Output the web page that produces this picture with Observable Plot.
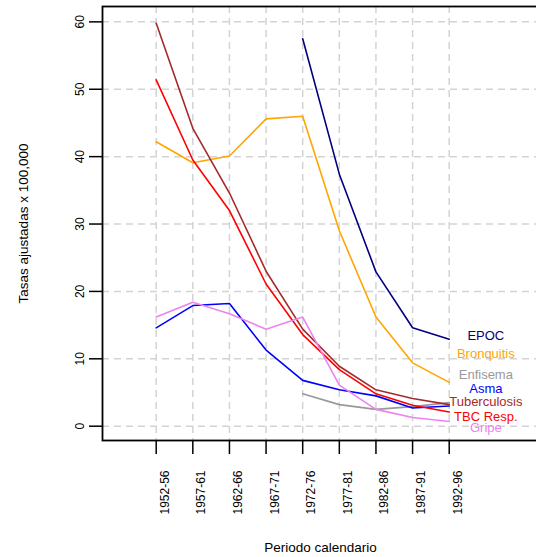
<!DOCTYPE html>
<html>
<head>
<meta charset="utf-8">
<script src="https://cdn.jsdelivr.net/npm/d3@7"></script>
<script src="https://cdn.jsdelivr.net/npm/@observablehq/plot@0.6"></script>
<style>
  html, body { margin: 0; padding: 0; background: white; }
  #chart { width: 536px; height: 557px; overflow: hidden; }
</style>
</head>
<body>
<div id="chart"></div>
<script>
// ---- data ----
const periods = ["1952-56","1957-61","1962-66","1967-71","1972-76","1977-81","1982-86","1987-91","1992-96"];
const epoc         = [null, null, null, null, 57.5, 37.4, 22.9, 14.6, 12.9];
const bronquitis   = [42.2, 39.1, 40.1, 45.6, 46.0, 29.0, 16.2, 9.4, 6.5];
const enfisema     = [null, null, null, null, 4.8, 3.2, 2.5, 2.9, 3.5];
const asma         = [14.6, 17.9, 18.2, 11.3, 6.8, 5.4, 4.5, 2.7, 3.0];
const tuberculosis = [59.8, 44.2, 34.6, 23.0, 14.4, 8.9, 5.4, 4.1, 3.2];
const tbcResp      = [51.4, 39.5, 32.0, 21.1, 13.6, 8.4, 4.8, 3.1, 2.1];
const gripe        = [16.2, 18.4, 16.7, 14.4, 16.2, 6.1, 2.5, 1.3, 0.7];

const seriesNames  = ["EPOC", "Bronquitis", "Enfisema", "Asma", "Tuberculosis", "TBC Resp.", "Gripe"];
const seriesColors = ["#000080", "#FFA500", "#999999", "#0000FF", "#A52A2A", "#FF0000", "#EE82EE"];
const labelY       = [13.45, 10.8, 7.6, 5.6, 3.6, 1.35, -0.3];
const labelX       = 10;
const yTicks       = [0, 10, 20, 30, 40, 50, 60];
const xTitle = "Periodo calendario";
const yTitle = "Tasas ajustadas x 100,000";

// ---- build table ----
const seriesValues = [epoc, bronquitis, enfisema, asma, tuberculosis, tbcResp, gripe];
const rows = [];
seriesValues.forEach((vals, s) => {
  vals.forEach((v, i) => rows.push({serie: seriesNames[s], idx: i + 1, value: v}));
});
const labels = seriesNames.map((n, s) => ({serie: n, x: labelX, y: labelY[s], color: seriesColors[s]}));
const indices = periods.map((p, i) => i + 1);

const font = "'Liberation Sans', Arial, Helvetica, sans-serif";
const gridStyle = {stroke: "#d3d3d3", strokeWidth: 1.5, strokeDasharray: "7,5", strokeOpacity: 1};

const chart = Plot.plot({
  width: 536,
  height: 557,
  marginLeft: 102,
  marginRight: -2,
  marginTop: 6,
  marginBottom: 117,
  style: {fontFamily: font, background: "white", overflow: "visible"},
  x: {type: "linear", domain: [-0.466, 11.438], axis: null},
  y: {type: "linear", domain: [-2.122, 62.28], axis: null},
  color: {domain: seriesNames, range: seriesColors},
  marks: [
    Plot.ruleY(yTicks, {y: d => d, ...gridStyle}),
    Plot.ruleX(indices, {x: d => d, ...gridStyle}),
    Plot.line(rows, {x: "idx", y: "value", z: "serie", stroke: "serie", strokeWidth: 1.6, defined: d => d.value != null}),
    Plot.text(labels, {x: "x", y: "y", text: "serie", fill: "color", fontSize: 13, textAnchor: "middle", lineAnchor: "middle"}),
    Plot.frame({stroke: "black", strokeWidth: 1.8}),
    Plot.axisX(indices, {tickSize: 14, stroke: "black", strokeWidth: 1.5, fill: "none", tickFormat: () => ""}),
    Plot.axisY(yTicks, {tickSize: 13, stroke: "black", strokeWidth: 1.5, fill: "none", tickFormat: () => ""}),
    Plot.text(indices, {x: d => d, text: d => periods[d - 1], frameAnchor: "bottom", dy: 30, dx: 12.5, rotate: -90, textAnchor: "end", lineAnchor: "bottom", fontSize: 12, fill: "black"}),
    Plot.text(yTicks, {y: d => d, text: d => String(d), frameAnchor: "left", dx: -19, rotate: -90, textAnchor: "middle", lineAnchor: "bottom", fontSize: 12, fill: "black"}),
    Plot.text([xTitle], {text: d => d, frameAnchor: "bottom", dy: 111, textAnchor: "middle", lineAnchor: "bottom", fontSize: 13.5, fill: "black"}),
    Plot.text([yTitle], {text: d => d, frameAnchor: "left", dx: -75, rotate: -90, textAnchor: "middle", lineAnchor: "bottom", fontSize: 13.5, fill: "black"})
  ]
});
document.getElementById("chart").appendChild(chart);
</script>
</body>
</html>
